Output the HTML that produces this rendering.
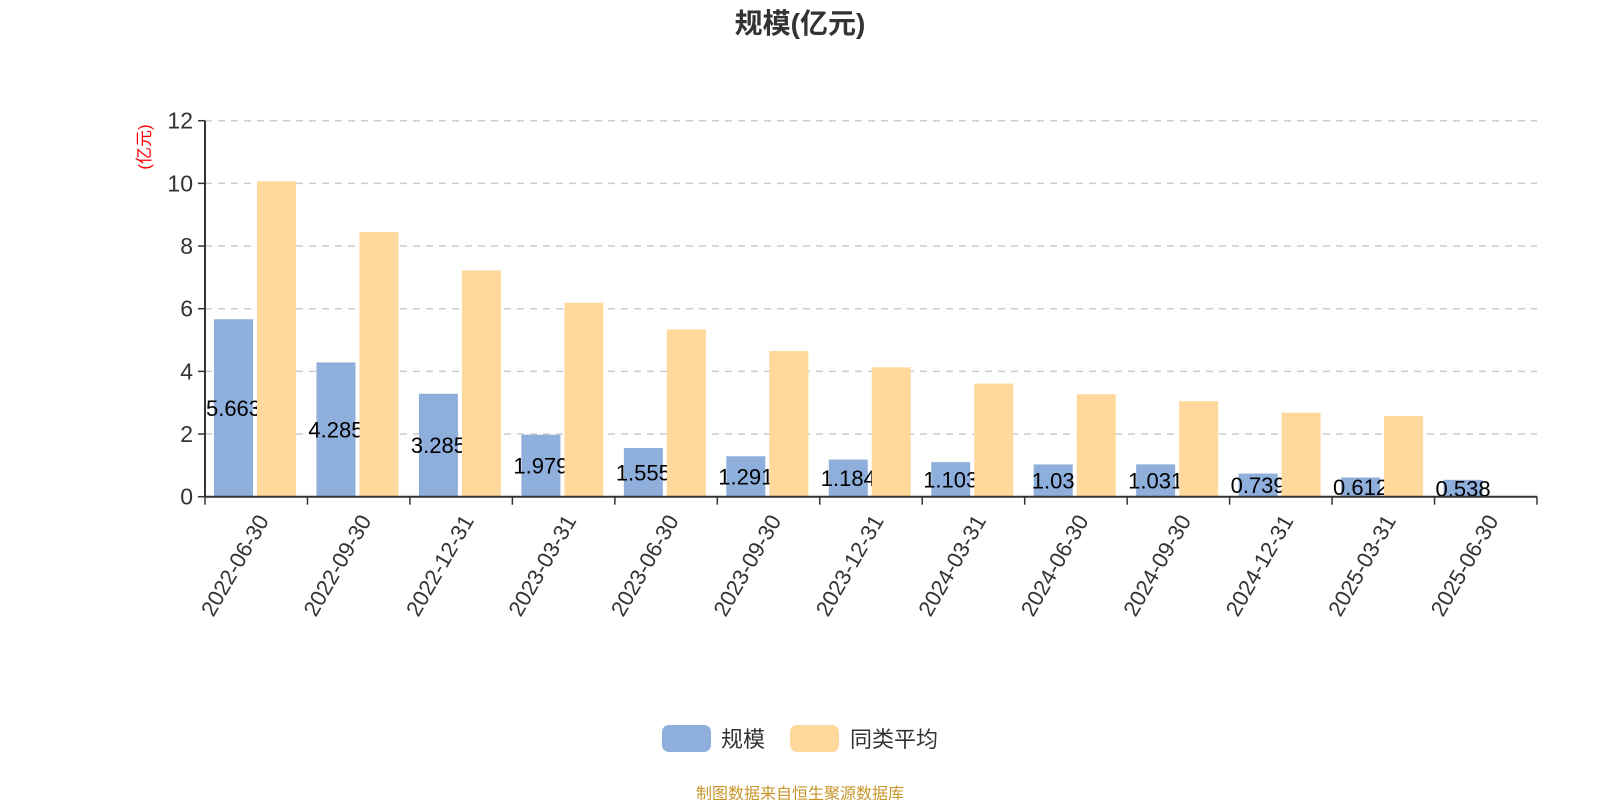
<!DOCTYPE html>
<html><head><meta charset="utf-8"><style>
body{margin:0;background:#fff;}
svg{display:block;font-family:"Liberation Sans","Noto Sans CJK SC",sans-serif;}
</style></head><body>
<svg id="chart" width="1600" height="800">
<text x="800" y="33" text-anchor="middle" font-size="28" font-weight="bold" fill="#333">规模(亿元)</text>
<text transform="translate(150,147) rotate(-90)" text-anchor="middle" font-size="17" fill="#f00">(亿元)</text>
<g id="grid"></g><g id="bars"></g><g id="axes"></g>
<g>
<g><rect x="662" y="725" width="49" height="27" rx="7" fill="#8eaedb"/><text x="721" y="747" font-size="22" fill="#333">规模</text></g>
<g><rect x="790" y="725" width="49" height="27" rx="7" fill="#ffd99b"/><text x="850" y="747" font-size="22" fill="#333">同类平均</text></g>
</g>
<text x="800" y="799" text-anchor="middle" font-size="16" fill="#c8962a">制图数据来自恒生聚源数据库</text>
</svg>
<script>
const categories=["2022-06-30","2022-09-30","2022-12-31","2023-03-31","2023-06-30","2023-09-30","2023-12-31","2024-03-31","2024-06-30","2024-09-30","2024-12-31","2025-03-31","2025-06-30"];
const scaleValues=[5.663,4.285,3.285,1.979,1.555,1.291,1.184,1.103,1.03,1.031,0.739,0.612,0.538];
const peerValues=[10.07,8.45,7.22,6.19,5.34,4.65,4.13,3.61,3.27,3.05,2.68,2.58,null];
const yTicks=[0,2,4,6,8,10,12];
const NS="http://www.w3.org/2000/svg";
const x0=205,x1=1537,yBase=496.7,yTop=120.7,yMax=12;
const bw=(x1-x0)/categories.length;
const y=v=>yBase-(v/yMax)*(yBase-yTop);
function mk(tag,attrs,parent,txt){const e=document.createElementNS(NS,tag);for(const k in attrs)e.setAttribute(k,attrs[k]);if(txt!=null)e.textContent=txt;parent.appendChild(e);return e;}
const grid=document.getElementById('grid'),bars=document.getElementById('bars'),axes=document.getElementById('axes');
yTicks.forEach(t=>{
  if(t>0){const l=mk('line',{x1:x0,x2:x1,y1:y(t),y2:y(t),stroke:'#ccc','stroke-width':1.5,'stroke-dasharray':'7,6'},grid);
  
  }
  const tk=mk('line',{x1:x0-7,x2:x0,y1:y(t),y2:y(t),stroke:'#333','stroke-width':1.5},axes);
  
  
  const tx=mk('text',{x:x0-12,y:y(t)+8,'text-anchor':'end','font-size':23,fill:'#333'},axes,t);
  
  
});
const labels=[];
categories.forEach((c,i)=>{
  const cx=x0+i*bw;
  const v=scaleValues[i];
  const b=mk('rect',{x:cx+9,y:y(v),width:39,height:yBase-y(v),fill:'#8eaedb'},bars);
  
  
  const lt=mk('text',{x:cx+28.5,y:(y(v)+yBase)/2+8,'text-anchor':'middle','font-size':22,fill:'#000'},bars,v);
  
  
});
categories.forEach((c,i)=>{
  const cx=x0+i*bw;
  const p=peerValues[i];
  if(p!=null){
    const b=mk('rect',{x:cx+52,y:y(p),width:39,height:yBase-y(p),fill:'#ffd99b'},bars);
    
    
  }
  const tk=mk('line',{x1:cx,x2:cx,y1:yBase,y2:yBase+8,stroke:'#333','stroke-width':1.5},axes);
  
  
  const lx=cx+bw/2,ly=yBase+16;
  const tx=mk('text',{x:lx,y:ly,'text-anchor':'end','font-size':22,fill:'#333',transform:`rotate(-60 ${lx} ${ly})`,dy:'0.7em'},axes,c);
  
  
});
const endTick=mk('line',{x1:x1,x2:x1,y1:yBase,y2:yBase+8,stroke:'#333','stroke-width':1.5},axes);


const xa=mk('line',{x1:x0,x2:x1,y1:yBase,y2:yBase,stroke:'#333','stroke-width':2},axes);


const ya=mk('line',{x1:x0,x2:x0,y1:yTop,y2:yBase,stroke:'#333','stroke-width':2},axes);


</script>
</body></html>
